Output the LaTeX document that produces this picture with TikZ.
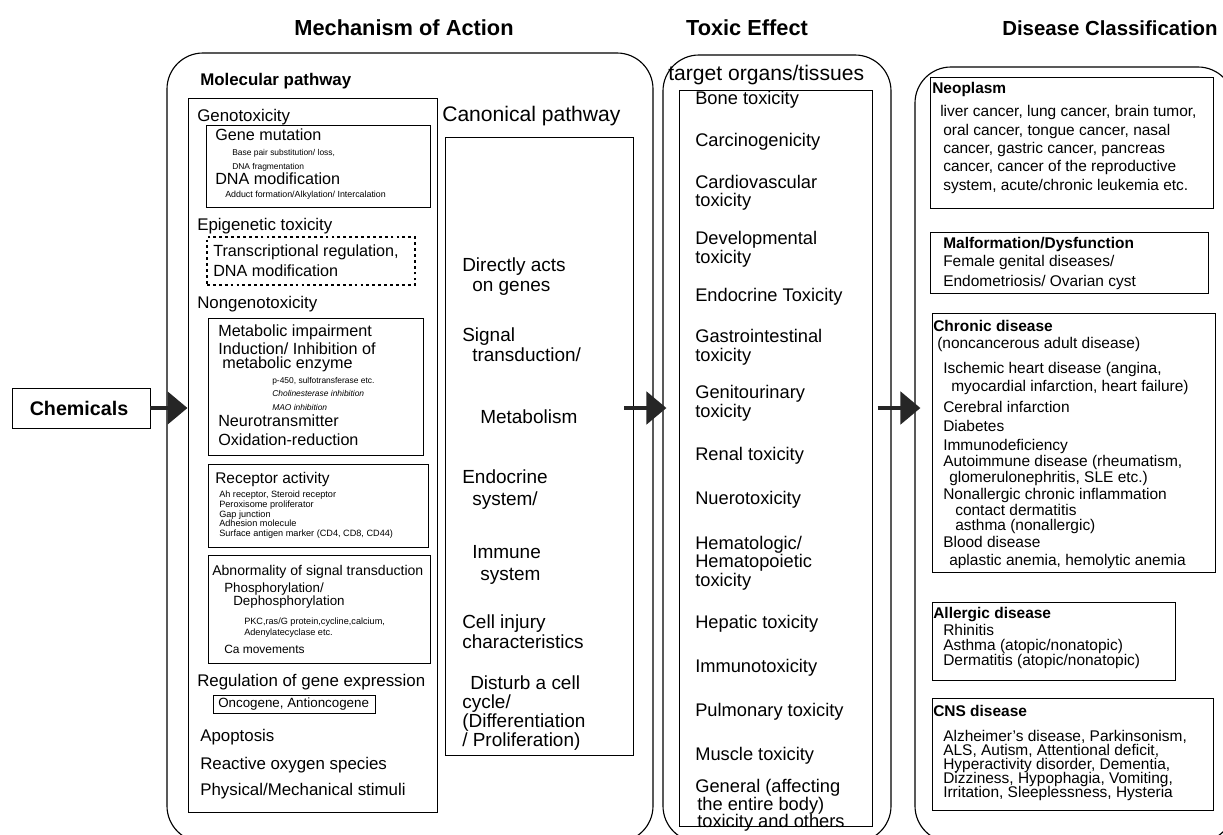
\documentclass[tikz,border=0pt]{standalone}
\usepackage{fontspec}
\setmainfont{Liberation Sans}
\usetikzlibrary{fit,arrows.meta}

\tikzset{
  box/.style={draw, line width=0.7pt, inner sep=0pt},
  dashbox/.style={draw, dashed, line width=0.9pt, dash pattern=on 2pt off 2.2pt, inner sep=0pt},
  roundbox/.style={draw, line width=0.8pt, inner sep=0pt, rounded corners=0.9cm},
  txt/.style={anchor=mid west, inner sep=0pt},
  ttl/.style={inner sep=0pt, font=\fontsize{15.5}{18}\selectfont\bfseries},
  hd/.style={txt, font=\fontsize{12}{14}\selectfont\bfseries},
  sub/.style={txt, font=\fontsize{15}{17}\selectfont},
  itm/.style={txt, font=\fontsize{11.5}{13}\selectfont},
  sml/.style={txt, font=\fontsize{6}{7}\selectfont},
  can/.style={txt, font=\fontsize{13.5}{15}\selectfont},
  tox/.style={txt, font=\fontsize{13}{15}\selectfont},
  dis/.style={txt, font=\fontsize{11}{13}\selectfont},
  dhd/.style={txt, font=\fontsize{11}{13}\selectfont\bfseries},
  bigarrow/.style={line width=3.5pt, black!85, -{Triangle[length=0.5cm,width=0.8cm]}}
}

\begin{document}
\begin{tikzpicture}[x=0.025cm, y=-0.025cm]
\useasboundingbox (0,0) rectangle (1223,835);

% column titles
\node[ttl] (ttlmech) at (404,28) {Mechanism of Action};
\node[ttl] (ttltox) at (747,28) {Toxic Effect};
\node[ttl, font=\fontsize{14.5}{17}\selectfont\bfseries] (ttldis) at (1110,28) {Disease Classification};

% chemicals
\node[box, fit={(12,388) (150,428)}] (chem) {};
\node[inner sep=0pt, font=\fontsize{14}{16}\selectfont\bfseries] (chemtxt) at (79,408) {Chemicals};

% mechanism of action
\node[roundbox, fit={(167,53) (653,842)}] (mech) {};
\node[hd] (molhd) at (200,82) {Molecular pathway};
\node[box, fit={(188,98) (437,812)}] (molbox) {};
\node[sub] (canhd) at (442,118) {Canonical pathway};
\node[box, fit={(445,137) (633,755)}] (canbox) {};

% genotoxicity
\node[itm, font=\fontsize{12}{14}\selectfont] (geno) at (197,118) {Genotoxicity};
\node[box, fit={(206,125) (430,207)}] (genebox) {};
\node[itm] (gmut) at (215,137) {Gene mutation};
\node[sml] (gmut1) at (232,152) {Base pair substitution/ loss,}; \node[sml] (gmut2) at (232,166) {DNA fragmentation};
\node[itm] (dmod) at (215,181) {DNA modification};
\node[sml, font=\fontsize{6.3}{7}\selectfont] (dmod1) at (225,194) {Adduct formation/Alkylation/ Intercalation};

% epigenetic
\node[itm, font=\fontsize{12}{14}\selectfont] (epi) at (197,227) {Epigenetic toxicity};
\node[dashbox, fit={(207,237) (415,285)}] (epibox) {};
\node[itm] (epi1) at (213,253) {Transcriptional regulation,}; \node[itm] (epi2) at (213,273) {DNA modification};

% nongenotoxicity
\node[itm, font=\fontsize{12}{14}\selectfont] (nongeno) at (197,305) {Nongenotoxicity};
\node[box, fit={(208,318) (423,455)}] (metbox) {};
\node[itm] (met1) at (218,333) {Metabolic impairment};
\node[itm] (met2) at (218,351) {Induction/ Inhibition of}; \node[itm] (met3) at (222,365) {metabolic enzyme};
\node[sml] (met4) at (272,380) {p-450, sulfotransferase etc.};
\node[sml, font=\fontsize{6}{7}\selectfont\itshape] (met5) at (272,393) {Cholinesterase inhibition};
\node[sml, font=\fontsize{6}{7}\selectfont\itshape] (met6) at (272,407) {MAO inhibition};
\node[itm] (met7) at (218,423) {Neurotransmitter}; \node[itm] (met8) at (218,442) {Oxidation-reduction};

\node[box, fit={(208,464) (428,547)}] (recbox) {};
\node[itm, font=\fontsize{11}{13}\selectfont] (rec) at (215,480) {Receptor activity};
\node[sml, font=\fontsize{6.5}{7}\selectfont] (rec1) at (219,494) {Ah receptor, Steroid receptor};
\node[sml, font=\fontsize{6.5}{7}\selectfont] (rec2) at (219,504) {Peroxisome proliferator};
\node[sml, font=\fontsize{6.5}{7}\selectfont] (rec3) at (219,514) {Gap junction};
\node[sml, font=\fontsize{6.5}{7}\selectfont] (rec4) at (219,523) {Adhesion molecule};
\node[sml, font=\fontsize{6.5}{7}\selectfont] (rec5) at (219,533) {Surface antigen marker (CD4, CD8, CD44)};

\node[box, fit={(208,555) (430,663)}] (sigbox) {};
\node[itm, font=\fontsize{10}{12}\selectfont] (sig) at (212,572) {Abnormality of signal transduction};
\node[itm, font=\fontsize{9.5}{11}\selectfont] (sig1) at (224,589) {Phosphorylation/};
\node[itm, font=\fontsize{9.5}{11}\selectfont] (sig2) at (233,602) {Dephosphorylation};
\node[sml, font=\fontsize{6.5}{7}\selectfont] (sig3) at (244,621) {PKC,ras/G protein,cycline,calcium,};
\node[sml, font=\fontsize{6.5}{7}\selectfont] (sig4) at (244,632) {Adenylatecyclase etc.};
\node[itm, font=\fontsize{8.5}{10}\selectfont] (sig5) at (224,650) {Ca movements};

% gene expression and others
\node[itm, font=\fontsize{12}{14}\selectfont] (reg) at (197,683) {Regulation of gene expression};
\node[box, fit={(213,695) (375,713)}] (oncbox) {};
\node[itm, font=\fontsize{9.5}{11}\selectfont] (onc) at (218,704) {Oncogene, Antioncogene};
\node[itm, font=\fontsize{12}{14}\selectfont] (apo) at (200,738) {Apoptosis};
\node[itm, font=\fontsize{12}{14}\selectfont] (ros) at (200,766) {Reactive oxygen species};
\node[itm, font=\fontsize{12}{14}\selectfont] (phys) at (200,792) {Physical/Mechanical stimuli};

% canonical pathway
\node[can] (can1) at (462,268) {Directly acts}; \node[can] (can1b) at (472,288) {on genes};
\node[can] (can2) at (462,338) {Signal}; \node[can] (can2b) at (472,358) {transduction/};
\node[can] (can3) at (480,420) {Metabolism};
\node[can] (can4) at (462,480) {Endocrine}; \node[can] (can4b) at (472,502) {system/};
\node[can] (can5) at (472,555) {Immune}; \node[can] (can5b) at (480,577) {system};
\node[can] (can6) at (462,625) {Cell injury}; \node[can] (can6b) at (462,645) {characteristics};
\node[can] (can7) at (470,686) {Disturb a cell}; \node[can] (can7b) at (462,705) {cycle/};
\node[can] (can7c) at (462,724) {(Differentiation}; \node[can] (can7d) at (462,743) {/ Proliferation)};

% toxic effect
\node[roundbox, fit={(663,55) (891,842)}] (toxout) {};
\node[sub] (toxhd) at (668,77) {target organs/tissues};
\node[box, fit={(679,90) (872,826)}] (toxin) {};
\node[tox] (tx1) at (695,101) {Bone toxicity};
\node[tox] (tx2) at (695,143) {Carcinogenicity};
\node[tox] (tx3) at (695,185) {Cardiovascular}; \node[tox] (tx3b) at (695,203) {toxicity};
\node[tox] (tx4) at (695,241) {Developmental}; \node[tox] (tx4b) at (695,260) {toxicity};
\node[tox] (tx5) at (695,298) {Endocrine Toxicity};
\node[tox] (tx6) at (695,339) {Gastrointestinal}; \node[tox] (tx6b) at (695,358) {toxicity};
\node[tox] (tx7) at (695,395) {Genitourinary}; \node[tox] (tx7b) at (695,414) {toxicity};
\node[tox] (tx8) at (695,457) {Renal toxicity};
\node[tox] (tx9) at (695,501) {Nuerotoxicity};
\node[tox] (tx10) at (695,546) {Hematologic/}; \node[tox] (tx10b) at (695,564) {Hematopoietic}; \node[tox] (tx10c) at (695,583) {toxicity};
\node[tox] (tx11) at (695,625) {Hepatic toxicity};
\node[tox] (tx12) at (695,669) {Immunotoxicity};
\node[tox] (tx13) at (695,713) {Pulmonary toxicity};
\node[tox] (tx14) at (695,757) {Muscle toxicity};
\node[tox] (tx15) at (695,789) {General (affecting}; \node[tox] (tx15b) at (697,807) {the entire body)}; \node[tox] (tx15c) at (697,824) {toxicity and others};

% disease classification
\node[roundbox, fit={(915,67) (1234,842)}] (disout) {};
\node[box, fit={(930,77) (1213,208)}] (neobox) {};
\node[dhd] (neo) at (932,90) {Neoplasm};
\node[dis] (neo1) at (940,113) {liver cancer, lung cancer, brain tumor,};
\node[dis] (neo2) at (943,132) {oral cancer, tongue cancer, nasal};
\node[dis] (neo3) at (943,150) {cancer, gastric cancer, pancreas};
\node[dis] (neo4) at (943,168) {cancer, cancer of the reproductive};
\node[dis] (neo5) at (943,187) {system, acute/chronic leukemia etc.};

\node[box, fit={(930,232) (1208,293)}] (malbox) {};
\node[dhd] (mal) at (943,245) {Malformation/Dysfunction};
\node[dis] (mal1) at (943,263) {Female genital diseases/}; \node[dis] (mal2) at (943,283) {Endometriosis/ Ovarian cyst};

\node[box, fit={(932,313) (1215,572)}] (chrbox) {};
\node[dhd] (chr) at (933,328) {Chronic disease};
\node[dis] (chr0) at (937,345) {(noncancerous adult disease)};
\node[dis] (chr1) at (943,370) {Ischemic heart disease (angina,};
\node[dis] (chr1b) at (951,388) {myocardial infarction, heart failure)};
\node[dis] (chr2) at (943,409) {Cerebral infarction};
\node[dis] (chr3) at (943,428) {Diabetes};
\node[dis] (chr4) at (943,447) {Immunodeficiency};
\node[dis] (chr5) at (943,463) {Autoimmune disease (rheumatism,};
\node[dis] (chr5b) at (949,479) {glomerulonephritis, SLE etc.)};
\node[dis] (chr6) at (943,496) {Nonallergic chronic inflammation};
\node[dis] (chr6b) at (955,512) {contact dermatitis}; \node[dis] (chr6c) at (955,527) {asthma (nonallergic)};
\node[dis] (chr7) at (943,544) {Blood disease};
\node[dis] (chr7b) at (949,562) {aplastic anemia, hemolytic anemia};

\node[box, fit={(932,602) (1175,680)}] (allbox) {};
\node[dhd] (all) at (933,615) {Allergic disease};
\node[dis] (all1) at (943,632) {Rhinitis};
\node[dis] (all2) at (943,647) {Asthma (atopic/nonatopic)};
\node[dis] (all3) at (943,662) {Dermatitis (atopic/nonatopic)};

\node[box, fit={(932,698) (1213,810)}] (cnsbox) {};
\node[dhd] (cns) at (933,713) {CNS disease};
\node[dis] (cns1) at (943,738) {Alzheimer's disease, Parkinsonism,};
\node[dis] (cns2) at (943,752) {ALS, Autism, Attentional deficit,};
\node[dis] (cns3) at (943,766) {Hyperactivity disorder, Dementia,};
\node[dis] (cns4) at (943,780) {Dizziness, Hypophagia, Vomiting,};
\node[dis] (cns5) at (943,794) {Irritation, Sleeplessness, Hysteria};

% arrows
\draw[bigarrow] (chem.east) -- (molbox.west |- chem.east);
\draw[bigarrow] ([xshift=-0.225cm]canbox.east |- chem.east) -- ([xshift=0.1cm]toxout.west |- chem.east);
\draw[bigarrow] ([xshift=0.125cm]toxin.east |- chem.east) -- ([xshift=0.15cm]disout.west |- chem.east);
\end{tikzpicture}
\end{document}
